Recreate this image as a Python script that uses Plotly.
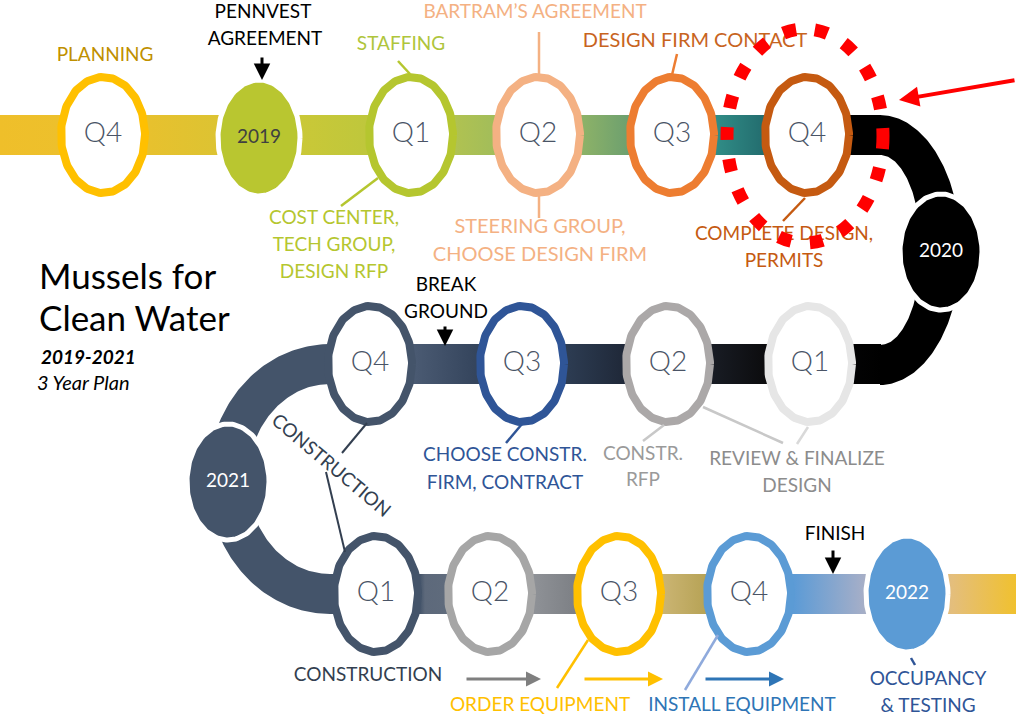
import numpy as np
import plotly.graph_objects as go

# ---------------- chart content ----------------
title_lines = ["Mussels for", "Clean Water"]
period_label = "2019-2021"
plan_label = "3 Year Plan"

row1_labels = ["Q4", "2019", "Q1", "Q2", "Q3", "Q4"]
row1_colors = ["#FFC000", "#B9C630", "#B5C62F", "#F4B183", "#ED7D31", "#C55A11"]
row2_labels = ["Q1", "Q2", "Q3", "Q4"]          # right to left along the path
row2_colors = ["#E6E6E6", "#ABA8A8", "#2F5597", "#44546A"]
row3_labels = ["Q1", "Q2", "Q3", "Q4", "2022"]
row3_colors = ["#44546A", "#A6A6A6", "#FFC000", "#5B9BD5", "#5B9BD5"]
year_2020 = "2020"
year_2021 = "2021"

cap_planning = "PLANNING"
cap_pennvest = ["PENNVEST", "AGREEMENT"]
cap_staffing = "STAFFING"
cap_bartram = "BARTRAM’S AGREEMENT"
cap_design_firm = "DESIGN FIRM CONTACT"
cap_cost = ["COST CENTER,", "TECH GROUP,", "DESIGN RFP"]
cap_steering = ["STEERING GROUP,", "CHOOSE DESIGN FIRM"]
cap_complete = ["COMPLETE DESIGN,", "PERMITS"]
cap_break = ["BREAK", "GROUND"]
cap_choose = ["CHOOSE CONSTR.", "FIRM, CONTRACT"]
cap_rfp = ["CONSTR.", "RFP"]
cap_review = ["REVIEW & FINALIZE", "DESIGN"]
cap_construction = "CONSTRUCTION"
cap_order = "ORDER EQUIPMENT"
cap_install = "INSTALL EQUIPMENT"
cap_finish = "FINISH"
cap_occupancy = ["OCCUPANCY", "& TESTING"]

# ---------------- layout geometry ----------------
W, H = 1016, 722
FONT = "Lato, 'Open Sans', sans-serif"
Y1, Y2, Y3 = 135, 364, 594
row1_x = [103, 259, 411, 538, 672, 807]
row2_x = [810, 668, 522, 370]
row3_x = [376, 490, 619, 749, 907]

fig = go.Figure()


def ell(cx, cy, rx, ry, t0=0.0, t1=2 * np.pi, n=160):
    t = np.linspace(t0, t1, n)
    return cx + rx * np.cos(t), cy + ry * np.sin(t)


def poly(xs, ys, color=None, stops=None):
    kw = dict(x=list(xs), y=list(ys), mode="lines", fill="toself",
              line=dict(width=0), hoverinfo="skip", showlegend=False)
    if stops:
        x0, x1 = stops[0][0], stops[-1][0]
        cs = [[(p - x0) / (x1 - x0), c] for p, c in stops]
        kw["fillgradient"] = dict(type="horizontal", colorscale=cs, start=x0, stop=x1)
    else:
        kw["fillcolor"] = color
    fig.add_trace(go.Scatter(**kw))


def rect(x0, x1, y0, y1, color=None, stops=None):
    poly([x0, x1, x1, x0, x0], [y0, y0, y1, y1, y0], color, stops)


def arc(cx, cy, rxo, ryo, rxi, ryi, t0, t1, color):
    xo, yo = ell(cx, cy, rxo, ryo, t0, t1)
    xi, yi = ell(cx, cy, rxi, ryi, t1, t0)
    poly(np.r_[xo, xi, xo[:1]], np.r_[yo, yi, yo[:1]], color)


# ---- path bands ----
rect(0, 800, 115, 155, stops=[(0, "#EFBF2A"), (60, "#EDC02C"), (150, "#E7C12E"),
                               (215, "#DDC332"), (300, "#CAC837"), (365, "#BFC73C"),
                               (455, "#B0C251"), (495, "#A2BD5A"), (585, "#8BB168"),
                               (630, "#6C9F6F"), (717, "#308C86"), (765, "#236C6E"),
                               (800, "#0B2020")])
rect(795, 881, 115, 155, "#000000")
arc(880, 250, 81, 135, 41, 95, -np.pi / 2, np.pi / 2, "#000000")
rect(329, 881, 344, 384, stops=[(329, "#44546A"), (412, "#4B5B73"), (475, "#35455D"),
                                (570, "#2C3B51"), (625, "#1F2838"), (712, "#181C24"),
                                (765, "#0C0C0E"), (881, "#000000")])
arc(330, 479, 122, 135, 82, 95, np.pi / 2, 3 * np.pi / 2, "#44546A")
rect(329, 1016, 574, 614, stops=[(329, "#44546A"), (420, "#44546A"), (425, "#5D697B"),
                                 (445, "#5F6B7C"), (535, "#8E9196"), (575, "#7D8085"),
                                 (664, "#CAB472"), (705, "#B7A356"), (794, "#5C9BD6"),
                                 (862, "#A4AEC8"), (952, "#E4BE7C"), (1016, "#F0C12F")])


# ---- milestone ovals ----
def ring(cx, cy, color, label):
    xs, ys = ell(cx, cy, 42, 58)
    fig.add_trace(go.Scatter(x=xs, y=ys, mode="lines", fill="toself", fillcolor="white",
                             line=dict(color=color, width=8), hoverinfo="skip", showlegend=False))
    fig.add_trace(go.Scatter(x=[cx], y=[cy], mode="text", text=[label], hoverinfo="skip",
                             showlegend=False,
                             textfont=dict(family=FONT, size=28, color="#4A5466", weight=300)))


def disc(cx, cy, color, label, tcolor):
    xs, ys = ell(cx, cy, 41, 58)
    fig.add_trace(go.Scatter(x=xs, y=ys, mode="lines", fill="toself", fillcolor=color,
                             line=dict(color="white", width=5), hoverinfo="skip", showlegend=False))
    fig.add_trace(go.Scatter(x=[cx], y=[cy], mode="text", text=[label], hoverinfo="skip",
                             showlegend=False,
                             textfont=dict(family=FONT, size=19, color=tcolor)))


for i, (lab, col, x) in enumerate(zip(row1_labels, row1_colors, row1_x)):
    if lab.startswith("Q"):
        ring(x, Y1, col, lab)
    else:
        disc(x, Y1 + 3, col, lab, "#404040")
disc(941, 252, "#000000", year_2020, "white")
for lab, col, x in zip(row2_labels, row2_colors, row2_x):
    ring(x, Y2, col, lab)
disc(228, 482, "#44546A", year_2021, "white")
for lab, col, x in zip(row3_labels, row3_colors, row3_x):
    if lab.startswith("Q"):
        ring(x, Y3, col, lab)
    else:
        disc(x, Y3, col, lab, "white")


# ---- connector lines ----
def seg(x0, y0, x1, y1, color, width=2.5):
    fig.add_trace(go.Scatter(x=[x0, x1], y=[y0, y1], mode="lines", hoverinfo="skip",
                             showlegend=False, line=dict(color=color, width=width)))


seg(398, 61, 410, 74, "#B5C62F")
seg(539, 32, 539, 74, "#F4B183")
seg(677, 54, 672, 75, "#ED7D31")
seg(378, 178, 341, 206, "#B5C62F")
seg(539, 196, 539, 218, "#F4B183")
seg(805, 198, 783, 221, "#C55A11")
seg(522, 424, 506, 443, "#2F5597")
seg(664, 425, 643, 441, "#C8C8C8")
seg(703, 407, 783, 443, "#C8C8C8")
seg(808, 427, 797, 444, "#D9D9D9")
seg(367, 423, 342, 453, "#333F50", 2)
seg(326, 472, 345, 552, "#333F50", 2)
seg(588, 640, 557, 688, "#FFC000")
seg(718, 635, 685, 690, "#8FAADC")
seg(911, 658, 915, 665, "#2F5597")


# ---- text ----
def txt(x, y, s, color, size=19):
    fig.add_trace(go.Scatter(x=[x], y=[y], mode="text", text=[s], hoverinfo="skip",
                             showlegend=False, textfont=dict(family=FONT, size=size, color=color)))


txt(105, 56, cap_planning, "#BF9000")
txt(263, 13, cap_pennvest[0], "#000000")
txt(265, 40, cap_pennvest[1], "#000000")
txt(401, 45, cap_staffing, "#AFC53B")
txt(535, 13, cap_bartram, "#F4B183")
txt(695, 42, cap_design_firm, "#C8641E", 20)
for s, y in zip(cap_cost, [219, 246, 273]):
    txt(334, y, s, "#B5C62F")
for s, y in zip(cap_steering, [228, 256]):
    txt(540, y, s, "#F4B183", 20)
for s, y in zip(cap_complete, [235, 262]):
    txt(784, y, s, "#C55A11")
for s, y in zip(cap_break, [286, 313]):
    txt(446, y, s, "#000000")
for s, y in zip(cap_choose, [456, 484]):
    txt(505, y, s, "#2F5597")
for s, y in zip(cap_rfp, [455, 481]):
    txt(643, y, s, "#9A9A9A")
for s, y in zip(cap_review, [460, 487]):
    txt(797, y, s, "#8C8C8C")
txt(368, 676, cap_construction, "#333F50")
txt(540, 706, cap_order, "#FFC000")
txt(742, 706, cap_install, "#2E75B6")
txt(835, 535, cap_finish, "#000000")
for s, y in zip(cap_occupancy, [680, 707]):
    txt(928, y, s, "#2F5597")

annotations = [
    dict(x=37, y=275, text=title_lines[0], xanchor="left", showarrow=False,
         font=dict(family=FONT, size=35, color="#000000")),
    dict(x=37, y=317, text=title_lines[1], xanchor="left", showarrow=False,
         font=dict(family=FONT, size=35, color="#000000")),
    dict(x=39, y=356, text="<b><i>" + period_label + "</i></b>", xanchor="left", showarrow=False,
         font=dict(family=FONT, size=19, color="#000000")),
    dict(x=35, y=382, text="<i>" + plan_label + "</i>", xanchor="left", showarrow=False,
         font=dict(family=FONT, size=20, color="#000000")),
    dict(x=332, y=464, text=cap_construction, textangle=40, showarrow=False,
         font=dict(family=FONT, size=19, color="#333F50")),
]


def arrow(x0, y0, x1, y1, color, width=3, head=2, size=1.0):
    annotations.append(dict(x=x1, y=y1, ax=x0, ay=y0, xref="x", yref="y", axref="x", ayref="y",
                            text="", showarrow=True, arrowhead=head, arrowsize=size,
                            arrowwidth=width, arrowcolor=color))


arrow(262, 56, 262, 80, "#000000", 3, 2, 1.1)
arrow(445, 325, 445, 346, "#000000", 3, 2, 1.1)
arrow(833, 549, 833, 574, "#000000", 3, 2, 1.1)
arrow(465, 679, 541, 679, "#7F7F7F", 3, 2, 1.0)
arrow(583, 679, 663, 679, "#FFC000", 3, 2, 1.0)
arrow(704, 679, 784, 679, "#2E75B6", 3, 2, 1.0)
arrow(1016, 80, 899, 100, "#FF0000", 4, 2, 1.0)

fig.update_layout(
    width=W, height=H, margin=dict(l=0, r=0, t=0, b=0),
    paper_bgcolor="white", plot_bgcolor="white", showlegend=False,
    xaxis=dict(range=[0, W], visible=False, fixedrange=True),
    yaxis=dict(range=[H, 0], visible=False, fixedrange=True),
    annotations=annotations,
    shapes=[dict(type="circle", xref="x", yref="y", x0=805 - 78, x1=805 + 78,
                 y0=136 - 107, y1=136 + 107, layer="above",
                 line=dict(color="#FF0000", width=13, dash="13px,19px"))],
)

fig.write_html("out.html", config={"displayModeBar": False},
               post_script="document.body.style.margin='0';document.body.style.overflow='hidden';")
